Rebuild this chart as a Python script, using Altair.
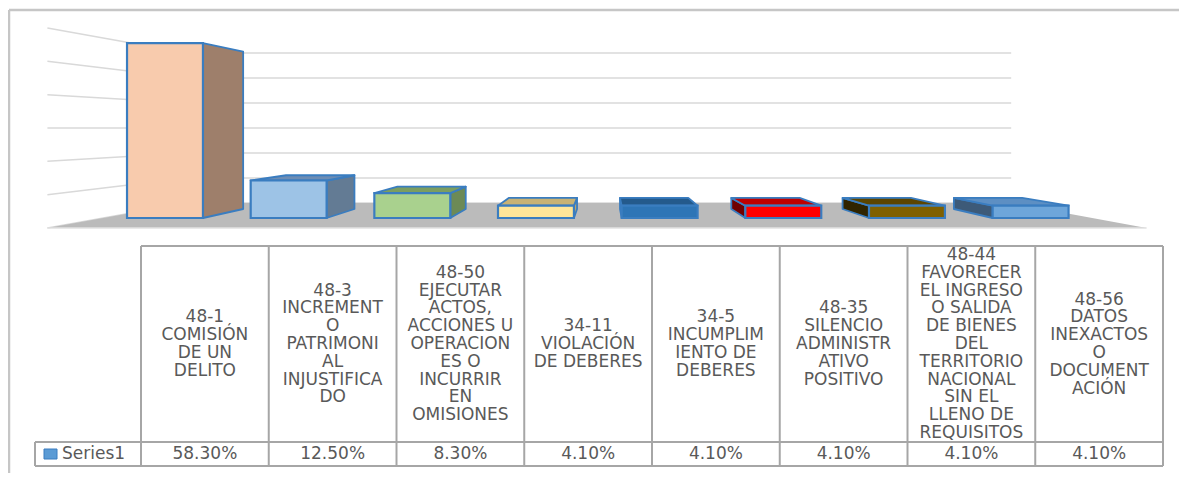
import altair as alt
import pandas as pd

# ---------------- data ----------------
category_lines = [
    ["48-1", "COMISIÓN", "DE UN", "DELITO"],
    ["48-3", "INCREMENT", "O", "PATRIMONI", "AL", "INJUSTIFICA", "DO"],
    ["48-50", "EJECUTAR", "ACTOS,", "ACCIONES U", "OPERACION", "ES O", "INCURRIR", "EN", "OMISIONES"],
    ["34-11", "VIOLACIÓN", "DE DEBERES"],
    ["34-5", "INCUMPLIM", "IENTO DE", "DEBERES"],
    ["48-35", "SILENCIO", "ADMINISTR", "ATIVO", "POSITIVO"],
    ["48-44", "FAVORECER", "EL INGRESO", "O SALIDA", "DE BIENES", "DEL", "TERRITORIO",
     "NACIONAL", "SIN EL", "LLENO DE", "REQUISITOS"],
    ["48-56", "DATOS", "INEXACTOS", "O", "DOCUMENT", "ACIÓN"],
]
values = [58.3, 12.5, 8.3, 4.1, 4.1, 4.1, 4.1, 4.1]
series_name = "Series1"
front_colors = ["#f8cbad", "#9dc3e6", "#a9d18e", "#ffe699", "#2e75b6", "#ff0000", "#7f6000", "#6ea6da"]
side_colors = ["#9e7f6b", "#637b94", "#6c8a56", "#bfa86a", "#1f4e79", "#700000", "#302400", "#3d5a78"]
top_colors = ["#c79f86", "#6d8db4", "#7b9e60", "#c8b274", "#245a8c", "#c00000", "#5c4500", "#5d8fc3"]
grid_values = [0, 10, 20, 30, 40, 50, 60]

# ---------------- layout ----------------
W, H, M = 1171, 465, 8
PX_X0, PX_PER_U = 47.4, 137.4      # page px of category unit 0 on the front plane
PX_Y0, PX_PER_PCT = 228.0, 10 / 3  # page px of 0 % on the front plane


def ux(px):
    return (px - PX_X0) / PX_PER_U


def py(px):
    return (PX_Y0 - px) / PX_PER_PCT


VU, VP = ux(605), 30.0               # vanishing point (category units, %)
F_FRONT, F_BACK = 1.0, 0.75          # wall depth factors
F_BAR_FRONT, F_BAR_BACK = 0.9, 0.81  # bar depth factors
BAR_HALF = 0.307
N = len(values)


def pu(u, f):
    return VU + (u - VU) * f


def pp(p, f):
    return VP + (p - VP) * f


xs = alt.Scale(domain=[ux(M), ux(M + W)], nice=False, zero=False)
ys = alt.Scale(domain=[py(M + H), py(M)], nice=False, zero=False)


def X(f="x"):
    return alt.X(f"{f}:Q", scale=xs, axis=None, stack=None)


def Y(f="y"):
    return alt.Y(f"{f}:Q", scale=ys, axis=None, stack=None)


# frame (top and left edges of the chart area)
frame = pd.DataFrame([
    dict(x=ux(9), y=py(10), x2=ux(M + W), y2=py(10)),
    dict(x=ux(9), y=py(10), x2=ux(9), y2=py(M + H)),
])

# gridlines on side wall and back wall
grid_rows = []
for v in grid_values:
    grid_rows.append(dict(x=pu(0, F_FRONT), y=pp(v, F_FRONT), x2=pu(0, F_BACK), y2=pp(v, F_BACK)))
    grid_rows.append(dict(x=pu(0, F_BACK), y=pp(v, F_BACK), x2=pu(N, F_BACK), y2=pp(v, F_BACK)))
grid = pd.DataFrame(grid_rows)

floor = pd.DataFrame([dict(y=pp(0, f), x=pu(0, f), x2=pu(N, f)) for f in (F_FRONT, F_BACK)])
floor_edge = pd.DataFrame([dict(x=pu(0, F_FRONT), y=pp(0, F_FRONT), x2=pu(N, F_FRONT), y2=pp(0, F_FRONT))])

front_rows, side_rows, top_rows = [], [], []
for i, v in enumerate(values):
    l, r = i + 0.5 - BAR_HALF, i + 0.5 + BAR_HALF
    front_rows.append(dict(bar=i, c=front_colors[i],
                           x=pu(l, F_BAR_FRONT), x2=pu(r, F_BAR_FRONT),
                           y=pp(0, F_BAR_FRONT), y2=pp(v, F_BAR_FRONT)))
    edge = r if r < VU else (l if l > VU else None)
    if edge is not None:
        for f in (F_BAR_FRONT, F_BAR_BACK):
            side_rows.append(dict(bar=i, c=side_colors[i], x=pu(edge, f), y=pp(v, f), y2=pp(0, f)))
    if v < VP:
        for f in (F_BAR_FRONT, F_BAR_BACK):
            top_rows.append(dict(bar=i, c=top_colors[i], y=pp(v, f), x=pu(l, f), x2=pu(r, f)))
fronts = pd.DataFrame(front_rows)
sides = pd.DataFrame(side_rows)
tops = pd.DataFrame(top_rows)

# data table
COL0, COLW = 141.0, 127.75
HEAD_LEFT = 35.0
ROW_TOP, ROW_MID, ROW_BOT = 246.0, 442.0, 466.0
LINE_H = 17.8
table_rows = [
    dict(x=ux(COL0), y=py(ROW_TOP), x2=ux(COL0 + COLW * N), y2=py(ROW_TOP)),
    dict(x=ux(HEAD_LEFT), y=py(ROW_MID), x2=ux(COL0 + COLW * N), y2=py(ROW_MID)),
    dict(x=ux(HEAD_LEFT), y=py(ROW_BOT), x2=ux(COL0 + COLW * N), y2=py(ROW_BOT)),
    dict(x=ux(HEAD_LEFT), y=py(ROW_MID), x2=ux(HEAD_LEFT), y2=py(ROW_BOT)),
]
for j in range(N + 1):
    table_rows.append(dict(x=ux(COL0 + COLW * j), y=py(ROW_TOP), x2=ux(COL0 + COLW * j), y2=py(ROW_BOT)))
table = pd.DataFrame(table_rows)

head_mid = (ROW_TOP + ROW_MID) / 2
labels = pd.DataFrame([
    dict(x=ux(COL0 + COLW * (j + 0.5)),
         y=py(head_mid - (len(category_lines[j]) - 1) * LINE_H / 2),
         yv=py((ROW_MID + ROW_BOT) / 2), label="\n".join(category_lines[j]), value=values[j])
    for j in range(N)
])
legend_df = pd.DataFrame([dict(x=ux(44), x2=ux(57), y=py(449), y2=py(459),
                               tx=ux(62), ty=py((ROW_MID + ROW_BOT) / 2), name=series_name)])

FONT = "DejaVu Sans"
TXT = "#595959"
BLUE = "#3a7dc0"
FS = 17

layers = [
    alt.Chart(frame).mark_rule(color="#c6c6c6", strokeWidth=2.5).encode(x=X(), y=Y(), x2="x2:Q", y2="y2:Q"),
    alt.Chart(grid).mark_rule(color="#d9d9d9", strokeWidth=1.5).encode(x=X(), y=Y(), x2="x2:Q", y2="y2:Q"),
    alt.Chart(floor).mark_area(orient="horizontal", color="#bbbbbb").encode(y=Y(), x=X(), x2="x2:Q"),
    alt.Chart(floor_edge).mark_rule(color="#e2e2e2", strokeWidth=1.5).encode(x=X(), y=Y(), x2="x2:Q", y2="y2:Q"),
    alt.Chart(sides).mark_area(stroke=BLUE, strokeWidth=1.8, strokeJoin="round").encode(
        x=X(), y=Y(), y2="y2:Q", color=alt.Color("c:N", scale=None), detail="bar:N"),
    alt.Chart(tops).mark_area(orient="horizontal", stroke=BLUE, strokeWidth=1.8, strokeJoin="round").encode(
        y=Y(), x=X(), x2="x2:Q", color=alt.Color("c:N", scale=None), detail="bar:N"),
    alt.Chart(fronts).mark_rect(stroke=BLUE, strokeWidth=2.2).encode(
        x=X(), x2="x2:Q", y=Y(), y2="y2:Q", color=alt.Color("c:N", scale=None)),
    alt.Chart(table).mark_rule(color="#a6a6a6", strokeWidth=2).encode(x=X(), y=Y(), x2="x2:Q", y2="y2:Q"),
    alt.Chart(labels).mark_text(font=FONT, fontSize=FS, color=TXT, lineBreak="\n", lineHeight=LINE_H,
                                align="center", baseline="middle").encode(x=X(), y=Y(), text="label:N"),
    alt.Chart(labels).transform_calculate(vt="format(datum.value / 100, '.2%')").mark_text(
        font=FONT, fontSize=FS, color=TXT, align="center", baseline="middle").encode(
        x=X(), y=Y("yv"), text="vt:N"),
    alt.Chart(legend_df).mark_rect(color="#5b9bd5", stroke=BLUE, strokeWidth=1).encode(
        x=X(), x2="x2:Q", y=Y(), y2="y2:Q"),
    alt.Chart(legend_df).mark_text(font=FONT, fontSize=FS, color=TXT, align="left", baseline="middle").encode(
        x=X("tx"), y=Y("ty"), text="name:N"),
]

chart = alt.layer(*layers).properties(
    width=W, height=H, padding=0, autosize=alt.AutoSizeParams(type="none")
).configure_view(stroke=None)
chart.save("out.html", embed_options={"renderer": "svg", "actions": False})
